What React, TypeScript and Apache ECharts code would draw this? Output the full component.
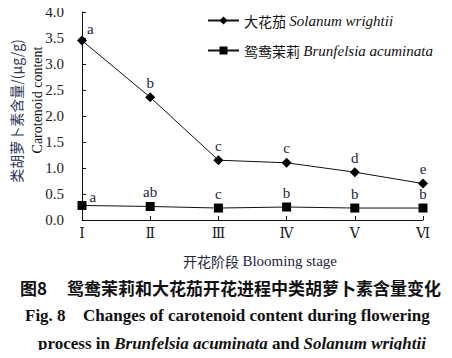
import React, { useEffect, useRef } from "react";
import * as echarts from "echarts";

const stages = ["Ⅰ", "Ⅱ", "Ⅲ", "Ⅳ", "Ⅴ", "Ⅵ"];
const solanum = [3.45, 2.36, 1.15, 1.1, 0.92, 0.7];
const solanumLetters = ["a", "b", "c", "c", "d", "e"];
const brunfelsia = [0.28, 0.26, 0.23, 0.25, 0.23, 0.23];
const brunfelsiaLetters = ["a", "ab", "c", "b", "b", "b"];
const yTicks = ["0.0", "0.5", "1.0", "1.5", "2.0", "2.5", "3.0", "3.5", "4.0"];

const SERIF = "Liberation Serif";
const CJK = "Noto Sans CJK SC";
const LETTER_COLOR = "#1d2440";

function buildData(vals: number[], letters: string[], firstOffset: number[]) {
  return vals.map((v, i) => ({
    value: v,
    label: {
      show: true,
      formatter: letters[i],
      position: i === 0 ? firstOffset : "top",
      distance: 2,
      color: LETTER_COLOR,
      fontFamily: SERIF,
      fontSize: 15,
    },
  }));
}

export default function App() {
  const ref = useRef<HTMLDivElement>(null);
  useEffect(() => {
    const chart = echarts.init(ref.current!, null, { renderer: "svg" });
    chart.setOption({
      animation: false,
      backgroundColor: "#fff",
      grid: { left: 82, right: 29, top: 12, bottom: 138, containLabel: false },
      legend: {
        orient: "vertical",
        left: 202,
        top: 8,
        itemWidth: 31,
        itemHeight: 10,
        itemGap: 15,
        formatter: (name: string) => {
          const [cn, ...rest] = name.split(" ");
          return `{cn|${cn}} {it|${rest.join(" ")}}`;
        },
        textStyle: {
          rich: {
            cn: { fontFamily: CJK, fontSize: 14, color: "#111" },
            it: { fontFamily: SERIF, fontSize: 15, fontStyle: "italic", color: "#111" },
          },
        },
        data: ["大花茄 Solanum wrightii", "鸳鸯茉莉 Brunfelsia acuminata"],
      },
      xAxis: {
        type: "category",
        data: stages,
        boundaryGap: false,
        axisLine: { lineStyle: { color: "#111", width: 1 } },
        axisTick: { inside: true, length: 4, lineStyle: { color: "#111" } },
        axisLabel: { fontFamily: "DejaVu Serif", fontSize: 14, color: "#1a1a1a", margin: 6 },
      },
      yAxis: {
        type: "value",
        min: 0,
        max: 4,
        interval: 0.5,
        splitLine: { show: false },
        axisLine: { show: true, lineStyle: { color: "#111", width: 1 } },
        axisTick: { show: true, inside: true, length: 4, lineStyle: { color: "#111" } },
        axisLabel: {
          fontFamily: SERIF,
          fontSize: 15,
          color: "#1a1a1a",
          margin: 18,
          formatter: (v: number) => yTicks[Math.round(v * 2)] ?? v.toFixed(1),
        },
      },
      series: [
        {
          name: "大花茄 Solanum wrightii",
          type: "line",
          data: buildData(solanum, solanumLetters, [10, -14]),
          symbol: "diamond",
          symbolSize: 10,
          lineStyle: { color: "#111", width: 1 },
          itemStyle: { color: "#000" },
        },
        {
          name: "鸳鸯茉莉 Brunfelsia acuminata",
          type: "line",
          data: buildData(brunfelsia, brunfelsiaLetters, [12, -11]),
          symbol: "rect",
          symbolSize: 9,
          lineStyle: { color: "#111", width: 1 },
          itemStyle: { color: "#000" },
        },
      ],
      graphic: [
        {
          type: "text",
          x: 16,
          y: 111,
          rotation: Math.PI / 2,
          style: {
            text: "类胡萝卜素含量/(μg/g)",
            font: `14px ${CJK}`,
            fill: "#2c3658",
            align: "center",
            verticalAlign: "middle",
          },
        },
        {
          type: "text",
          x: 37,
          y: 100,
          rotation: Math.PI / 2,
          style: {
            text: "Carotenoid content",
            font: `14px ${SERIF}`,
            fill: "#111",
            align: "center",
            verticalAlign: "middle",
          },
        },
        {
          type: "text",
          x: 260,
          y: 261,
          style: {
            text: "{cn|开花阶段} {en|Blooming stage}",
            align: "center",
            verticalAlign: "middle",
            rich: {
              cn: { font: `14px ${CJK}`, fill: "#1d2440" },
              en: { font: `15px ${SERIF}`, fill: "#1d2440" },
            },
          },
        },
        {
          type: "text",
          x: 20,
          y: 287,
          style: {
            text: "图8",
            font: `bold 17px ${CJK}`,
            fill: "#111",
            verticalAlign: "middle",
          },
        },
        {
          type: "text",
          x: 67,
          y: 287,
          style: {
            text: "鸳鸯茉莉和大花茄开花进程中类胡萝卜素含量变化",
            font: `bold 17px ${CJK}`,
            fill: "#111",
            verticalAlign: "middle",
          },
        },
        {
          type: "text",
          x: 25,
          y: 315,
          style: {
            text: "Fig. 8",
            font: `bold 17px ${SERIF}`,
            fill: "#111",
            verticalAlign: "middle",
          },
        },
        {
          type: "text",
          x: 83,
          y: 315,
          style: {
            text: "Changes of carotenoid content during flowering",
            font: `bold 17px ${SERIF}`,
            fill: "#111",
            verticalAlign: "middle",
          },
        },
        {
          type: "text",
          x: 232,
          y: 343,
          style: {
            text: "{n|process in }{i|Brunfelsia acuminata}{n| and }{i|Solanum wrightii}",
            align: "center",
            verticalAlign: "middle",
            rich: {
              n: { font: `bold 17px ${SERIF}`, fill: "#111" },
              i: { font: `italic bold 17px ${SERIF}`, fill: "#111" },
            },
          },
        },
      ],
    });
    return () => chart.dispose();
  }, []);
  return <div ref={ref} style={{ width: 452, height: 358, margin: -8 }} />;
}
